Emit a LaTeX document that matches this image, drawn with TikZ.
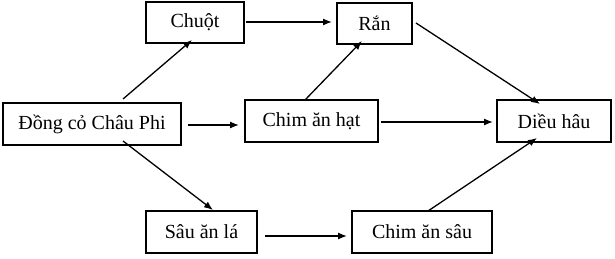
\documentclass[tikz,border=0pt]{standalone}
\usepackage{fontspec}
\setmainfont{Liberation Serif}
\usetikzlibrary{arrows.meta}
\begin{document}
\begin{tikzpicture}[x=1pt,y=-1pt,
  box/.style={draw,line width=2pt,rectangle,inner sep=0pt,font=\fontsize{20}{24}\selectfont},
  arr/.style={line width=1.3pt,-{Latex[length=9pt,width=7pt]}}]
\useasboundingbox (0,0) rectangle (615,259);
\node[box,minimum width=98pt,minimum height=41pt] (chuot) at (195,22.5) {Chuột};
\node[box,minimum width=75pt,minimum height=41pt] (ran) at (374.5,23.5) {Rắn};
\node[box,minimum width=178pt,minimum height=42pt] (dong) at (92,124) {Đồng cỏ Châu Phi};
\node[box,minimum width=133pt,minimum height=42pt] (hat) at (311.5,121) {Chim ăn hạt};
\node[box,minimum width=114pt,minimum height=42pt] (dieu) at (554,121) {Diều hâu};
\node[box,minimum width=111pt,minimum height=42pt] (sau) at (201.5,232) {Sâu ăn lá};
\node[box,minimum width=140pt,minimum height=42pt] (csau) at (422,232) {Chim ăn sâu};
\draw[arr] (dong.north)++(31,-3) coordinate (a1) (a1) -- ([yshift=4pt]chuot.south -| 192,0);
\draw[arr] ([xshift=1pt]chuot.east |- 0,22) -- ([xshift=-4pt]ran.west |- 0,22);
\draw[arr] ([yshift=-1pt]hat.north -| 305,0) -- ([yshift=4pt]ran.south -| 362,0);
\draw[arr] ([xshift=3pt,yshift=5pt]ran.north east |- 0,28) -- ([yshift=-5pt]dieu.north -| 540,0);
\draw[arr] ([xshift=6pt]dong.east |- 0,125) -- ([xshift=-5pt]hat.west |- 0,125);
\draw[arr] ([xshift=2pt]hat.east |- 0,122) -- ([xshift=-3pt]dieu.west |- 0,122);
\draw[arr] ([yshift=5pt]dong.south -| 123,0) -- (sau.north -| 213,0);
\draw[arr] ([xshift=7pt]sau.east |- 0,236) -- ([xshift=-4pt]csau.west |- 0,236);
\draw[arr] ([yshift=-1pt]csau.north -| 428,0) -- ([yshift=5pt]dieu.south -| 537,0);
\end{tikzpicture}
\end{document}
